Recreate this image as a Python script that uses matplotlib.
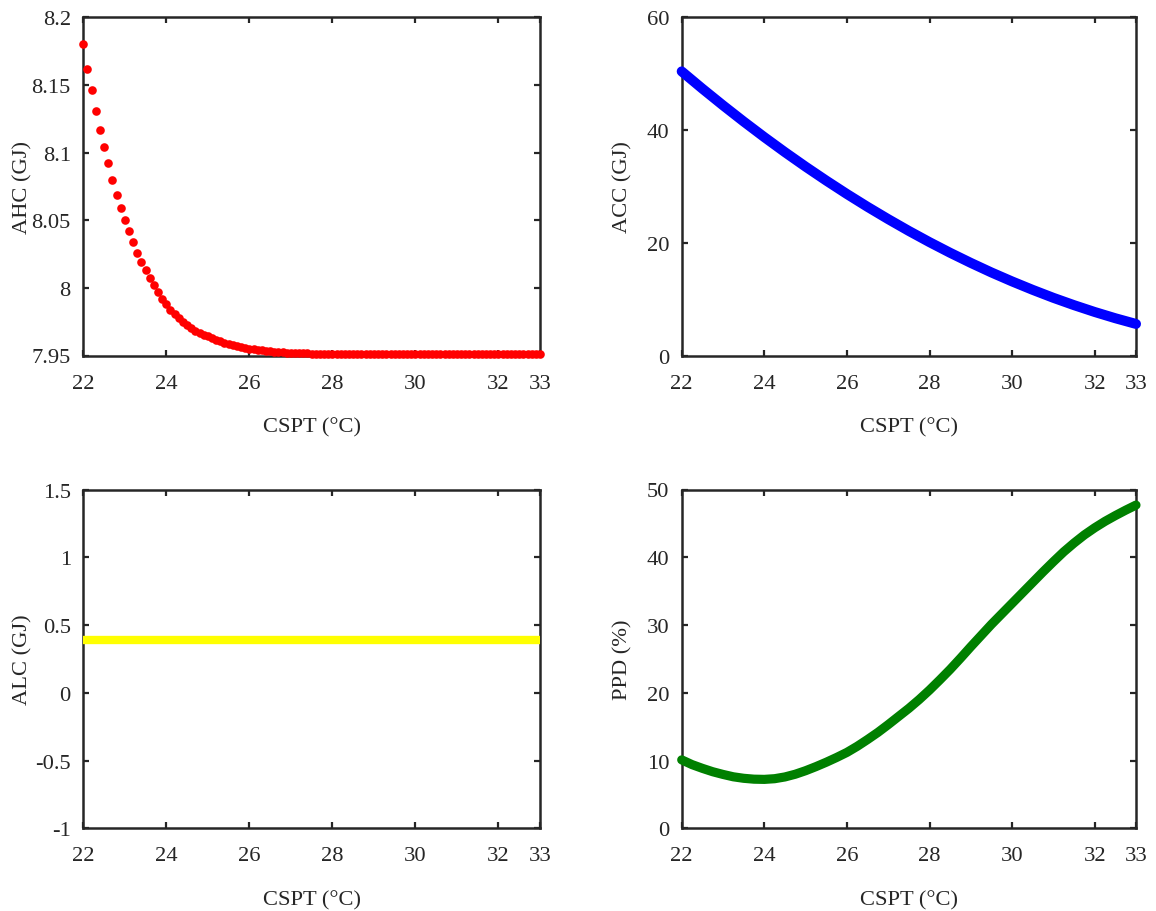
import matplotlib
matplotlib.use("Agg")
import matplotlib.pyplot as plt

# ---------------- data ----------------
cspt_fine = [round(22 + 0.1 * i, 1) for i in range(111)]
ahc = [8.180, 8.162, 8.146, 8.131, 8.117, 8.104, 8.092, 8.080, 8.069, 8.059,
       8.050, 8.042, 8.034, 8.026, 8.019, 8.013, 8.007, 8.002, 7.997, 7.992,
       7.988, 7.984, 7.981, 7.978, 7.975, 7.9725, 7.970, 7.968, 7.9665, 7.9655,
       7.9643, 7.9630, 7.9618, 7.9606, 7.9595, 7.9585, 7.9576, 7.9568, 7.9561, 7.9555,
       7.9550, 7.9545, 7.9541, 7.9537, 7.9533, 7.9530, 7.9527, 7.9525, 7.9523, 7.9521,
       7.9519, 7.9518, 7.9517, 7.9516, 7.9515, 7.9514, 7.9513, 7.9513, 7.9512, 7.9512,
       7.9512, 7.9511, 7.9511, 7.9511, 7.9511, 7.9511, 7.9511, 7.9511, 7.9511, 7.9511,
       7.9511, 7.9511, 7.9511, 7.9511, 7.9511, 7.9511, 7.9511, 7.9511, 7.9511, 7.9511,
       7.9511, 7.9511, 7.9511, 7.9511, 7.9511, 7.9511, 7.9511, 7.9511, 7.9511, 7.9511,
       7.9511, 7.9511, 7.9511, 7.9511, 7.9511, 7.9511, 7.9511, 7.9511, 7.9511, 7.9511,
       7.9511, 7.9511, 7.9511, 7.9511, 7.9511, 7.9511, 7.9511, 7.9511, 7.9511, 7.9511,
       7.9511]

cspt = [22.0, 22.5, 23.0, 23.5, 24.0, 24.5, 25.0, 25.5, 26.0, 26.5, 27.0, 27.5,
        28.0, 28.5, 29.0, 29.5, 30.0, 30.5, 31.0, 31.5, 32.0, 32.5, 33.0]
acc = [50.4, 47.34, 44.38, 41.51, 38.74, 36.07, 33.50, 31.03, 28.65, 26.37, 24.19, 22.10,
       20.11, 18.22, 16.43, 14.73, 13.14, 11.64, 10.23, 8.93, 7.72, 6.61, 5.60]
alc = [0.39, 0.39, 0.39, 0.39, 0.39, 0.39, 0.39, 0.39, 0.39, 0.39, 0.39, 0.39,
       0.39, 0.39, 0.39, 0.39, 0.39, 0.39, 0.39, 0.39, 0.39, 0.39, 0.39]

cspt_q = [22.0, 22.25, 22.5, 22.75, 23.0, 23.25, 23.5, 23.75, 24.0, 24.25, 24.5, 24.75,
          25.0, 25.25, 25.5, 25.75, 26.0, 26.25, 26.5, 26.75, 27.0, 27.25, 27.5, 27.75,
          28.0, 28.25, 28.5, 28.75, 29.0, 29.25, 29.5, 29.75, 30.0, 30.25, 30.5, 30.75,
          31.0, 31.25, 31.5, 31.75, 32.0, 32.25, 32.5, 32.75, 33.0]
ppd = [10.1, 9.4, 8.85, 8.35, 7.95, 7.6, 7.38, 7.25, 7.22, 7.32, 7.58, 7.98,
       8.5, 9.1, 9.75, 10.45, 11.2, 12.1, 13.1, 14.15, 15.3, 16.5, 17.7, 19.0,
       20.4, 21.9, 23.45, 25.1, 26.8, 28.45, 30.1, 31.65, 33.2, 34.75, 36.3, 37.85,
       39.35, 40.8, 42.1, 43.3, 44.35, 45.3, 46.15, 46.95, 47.7]

x_ticks = [22, 24, 26, 28, 30, 32, 33]
x_ticklabels = ["22", "24", "26", "28", "30", "32", "33"]
ahc_ticks = [7.95, 8.0, 8.05, 8.1, 8.15, 8.2]
ahc_ticklabels = ["7.95", "8", "8.05", "8.1", "8.15", "8.2"]
acc_ticks = [0, 20, 40, 60]
acc_ticklabels = ["0", "20", "40", "60"]
alc_ticks = [-1, -0.5, 0, 0.5, 1, 1.5]
alc_ticklabels = ["-1", "-0.5", "0", "0.5", "1", "1.5"]
ppd_ticks = [0, 10, 20, 30, 40, 50]
ppd_ticklabels = ["0", "10", "20", "30", "40", "50"]

# ---------------- style ----------------
plt.rcParams['font.family'] = ['Liberation Serif', 'DejaVu Serif']
FS = 16.2
plt.rcParams['font.size'] = FS
AX_COL = '#262626'

W, H = 1156, 912
fig = plt.figure(figsize=(W / 100, H / 100), dpi=100)


def make_ax(x0, x1, y0, y1):
    return fig.add_axes([x0 / W, 1 - y1 / H, (x1 - x0) / W, (y1 - y0) / H])


axes = [make_ax(83.3, 540.0, 18.3, 356.5),
        make_ax(681.7, 1136.0, 18.3, 356.5),
        make_ax(83.3, 540.0, 490.5, 829.3),
        make_ax(681.7, 1136.0, 490.5, 829.3)]

ax1, ax2, ax3, ax4 = axes
ax1.plot(cspt_fine, ahc, linestyle='none', marker='o', markersize=6.2,
         color='#FF0000', markeredgewidth=0, clip_on=False, zorder=5)
ax2.plot(cspt, acc, color='#0000FF', linewidth=7.2, solid_capstyle='round',
         solid_joinstyle='round', clip_on=False, zorder=5)
ax3.plot(cspt, alc, color='#FFFF00', linewidth=6.0, solid_capstyle='butt',
         clip_on=False, zorder=5)
ax4.plot(cspt_q, ppd, color='#008000', linewidth=6.6, solid_capstyle='round',
         solid_joinstyle='round', clip_on=False, zorder=5)

settings = [
    (ax1, (7.95, 8.2), ahc_ticks, ahc_ticklabels, "AHC (GJ)", -0.112),
    (ax2, (0, 60), acc_ticks, acc_ticklabels, "ACC (GJ)", -0.109),
    (ax3, (-1, 1.5), alc_ticks, alc_ticklabels, "ALC (GJ)", -0.112),
    (ax4, (0, 50), ppd_ticks, ppd_ticklabels, "PPD (%)", -0.109),
]

for ax, ylim, yt, ytl, ylab, lx in settings:
    ax.set_xlim(22, 33)
    ax.set_ylim(*ylim)
    ax.set_xticks(x_ticks)
    ax.set_xticklabels(x_ticklabels)
    ax.set_yticks(yt)
    ax.set_yticklabels(ytl)
    ax.tick_params(direction='in', length=4, width=1.6, top=True, right=True,
                   colors=AX_COL, labelsize=FS)
    ax.tick_params(axis='x', pad=13)
    ax.tick_params(axis='y', pad=9)
    for s in ax.spines.values():
        s.set_linewidth(1.8)
        s.set_color(AX_COL)
    ax.set_xlabel("CSPT (°C)", fontsize=FS, color=AX_COL, labelpad=18)
    ax.set_ylabel(ylab, fontsize=FS, color=AX_COL)
    ax.yaxis.set_label_coords(lx, 0.5)

fig.savefig("out.png", dpi=100)
